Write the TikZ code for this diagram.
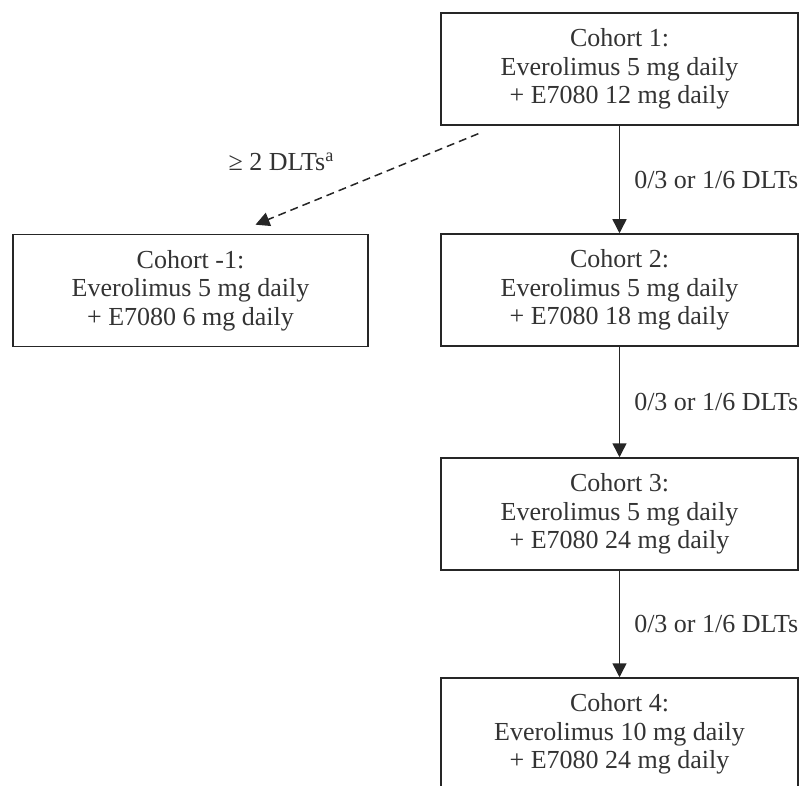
\documentclass[tikz,border=0pt]{standalone}
\usepackage{fontspec}
\setmainfont{Liberation Serif}
\usetikzlibrary{arrows.meta}

\begin{document}
\begin{tikzpicture}[x=1pt,y=-1pt,
    cohort/.style={draw=black!85,line width=1.5pt,minimum width=357pt,minimum height=112pt,
        align=center,text=black!80,font=\fontsize{26}{28.5}\selectfont},
    dlt/.style={text=black!80,font=\fontsize{26}{28.5}\selectfont,inner sep=0pt},
    >={Triangle[length=14pt,width=14pt]}]
    \useasboundingbox (0,0) rectangle (809,786);
    \clip (0,0) rectangle (809,786);
    \node[cohort] (c1) at (619.5,69) {Cohort 1:\\Everolimus 5 mg daily\\+ E7080 12 mg daily};
    \node[cohort,minimum width=355pt] (cm1) at (190.5,290.5) {Cohort -1:\\Everolimus 5 mg daily\\+ E7080 6 mg daily};
    \node[cohort] (c2) at (619.5,290) {Cohort 2:\\Everolimus 5 mg daily\\+ E7080 18 mg daily};
    \node[cohort] (c3) at (619.5,514) {Cohort 3:\\Everolimus 5 mg daily\\+ E7080 24 mg daily};
    \node[cohort] (c4) at (619.5,734) {Cohort 4:\\Everolimus 10 mg daily\\+ E7080 24 mg daily};
    \path[->,black!85,line width=1.5pt]
    (c1) edge node[dlt,right=14pt] {0/3 or 1/6 DLTs} (c2)
    (c2) edge node[dlt,right=14pt] {0/3 or 1/6 DLTs} (c3)
    (c3) edge node[dlt,right=14pt] {0/3 or 1/6 DLTs} (c4);
    \path[->,black!85,line width=1.5pt,dash pattern=on 8pt off 5pt]
    (c1.205.7) edge[shorten <=21pt,shorten >=24pt] node[dlt,pos=0.56,above left=15pt] {≥ 2 DLTs\textsuperscript{a}} (cm1.53);
\end{tikzpicture}
\end{document}
